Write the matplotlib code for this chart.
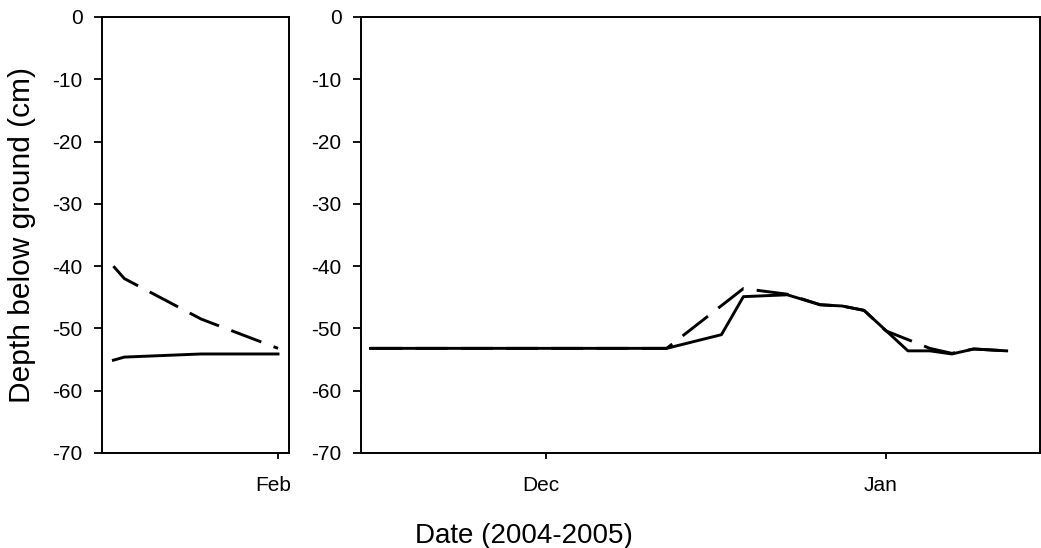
import matplotlib
matplotlib.use("Agg")
import matplotlib.pyplot as plt
import matplotlib.dates as mdates
import matplotlib.transforms as mtransforms
from datetime import datetime

plt.rcParams['font.family'] = ['Liberation Sans', 'DejaVu Sans']
plt.rcParams['axes.unicode_minus'] = False

# ---- data ----
left_dates = ["2004-01-17", "2004-01-18", "2004-01-25", "2004-02-01"]
left_solid = [-55.1, -54.6, -54.1, -54.1]
left_dashed = [-40.0, -42.0, -48.5, -53.2]

right_solid_dates = ["2004-11-15", "2004-12-12", "2004-12-17", "2004-12-19", "2004-12-23",
                     "2004-12-26", "2004-12-28", "2004-12-30", "2005-01-03", "2005-01-05",
                     "2005-01-07", "2005-01-09", "2005-01-12"]
right_solid = [-53.2, -53.2, -51.0, -44.9, -44.6, -46.2, -46.4, -47.1, -53.6, -53.6,
               -54.1, -53.3, -53.6]

right_dashed_dates = ["2004-11-15", "2004-12-12", "2004-12-19", "2004-12-23", "2004-12-26",
                      "2004-12-28", "2004-12-30", "2005-01-01", "2005-01-05", "2005-01-07",
                      "2005-01-09", "2005-01-12"]
right_dashed = [-53.2, -53.2, -43.6, -44.5, -46.2, -46.4, -47.1, -50.4, -53.2, -54.0,
                -53.3, -53.6]

left_ticks = ["2004-02-01"]
right_ticks = ["2004-12-01", "2005-01-01"]
y_ticks = [0, -10, -20, -30, -40, -50, -60, -70]


def d(s):
    return mdates.date2num(datetime.strptime(s, "%Y-%m-%d"))


fig = plt.figure(figsize=(10.41, 5.48), dpi=100)
W, H = 1041, 548
axL = fig.add_axes([102 / W, 1 - 453 / H, (289 - 102) / W, (453 - 17) / H])
axR = fig.add_axes([361 / W, 1 - 453 / H, (1040 - 361) / W, (453 - 17) / H])

lw = 2.1
dash = (11, 4.5)

axL.plot([d(s) for s in left_dates], left_solid, color='black', lw=lw)
axL.plot([d(s) for s in left_dates], left_dashed, color='black', lw=lw, dashes=dash)
axR.plot([d(s) for s in right_solid_dates], right_solid, color='black', lw=lw)
axR.plot([d(s) for s in right_dashed_dates], right_dashed, color='black', lw=lw, dashes=dash)

axL.set_xlim(d("2004-02-01") - 16.04, d("2004-02-01") + 1.0)
axR.set_xlim(d("2004-12-01") - 16.86, d("2005-01-01") + 14.04)

offset = mtransforms.ScaledTranslation(-5 / 100, 0, fig.dpi_scale_trans)
for ax, ticks in ((axL, left_ticks), (axR, right_ticks)):
    ax.set_ylim(-70, 0)
    ax.set_yticks(y_ticks)
    ax.set_xticks([d(s) for s in ticks])
    ax.xaxis.set_major_formatter(mdates.DateFormatter('%b'))
    ax.tick_params(axis='y', direction='out', length=5.5, width=1.3, pad=8.5, labelsize=15)
    ax.tick_params(axis='x', direction='out', length=4.5, width=1.3, pad=12, labelsize=15)
    for sp in ax.spines.values():
        sp.set_linewidth(1.4)
    for lab in ax.get_xticklabels():
        lab.set_transform(lab.get_transform() + offset)

fig.text(22 / W, 1 - 235 / H, "Depth below ground (cm)", rotation=90, fontsize=21.5,
         ha='center', va='center')
fig.text(524 / W, 1 - 536 / H, "Date (2004-2005)", fontsize=20, ha='center', va='center')

fig.savefig("out.png", dpi=100)
